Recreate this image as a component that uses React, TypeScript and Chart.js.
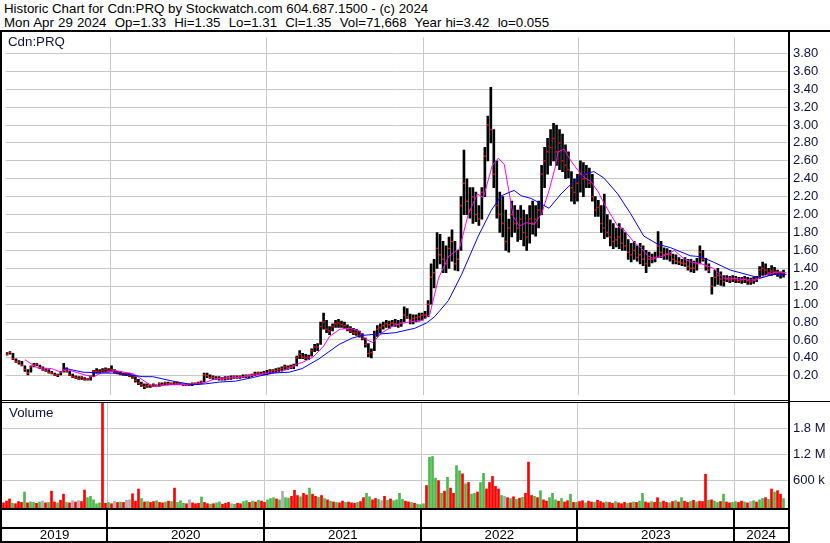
import React, { useEffect, useRef } from 'react';
import { Chart, registerables } from 'chart.js';

Chart.register(...registerables);

const FONT = "'Liberation Sans', Arial, Helvetica, sans-serif";

// ---- weekly price data (week index 0 = end of Apr 2019) ----
const weekHigh = [
  0.46,0.47,0.45,0.39,0.37,0.36,0.31,0.27,0.31,0.34,
  0.34,0.32,0.30,0.28,0.27,0.25,0.23,0.22,0.25,0.34,
  0.29,0.25,0.22,0.20,0.19,0.19,0.18,0.17,0.20,0.26,
  0.28,0.27,0.28,0.29,0.28,0.31,0.27,0.25,0.24,0.23,
  0.23,0.23,0.21,0.19,0.16,0.13,0.11,0.11,0.10,0.11,
  0.10,0.12,0.12,0.13,0.13,0.12,0.13,0.13,0.12,0.11,
  0.11,0.11,0.12,0.12,0.13,0.14,0.23,0.23,0.21,0.20,
  0.19,0.19,0.18,0.19,0.19,0.20,0.20,0.20,0.20,0.21,
  0.21,0.21,0.22,0.24,0.24,0.24,0.25,0.26,0.27,0.27,
  0.28,0.29,0.30,0.32,0.31,0.32,0.33,0.42,0.48,0.45,
  0.44,0.43,0.50,0.55,0.56,0.80,0.90,0.82,0.75,0.78,
  0.82,0.83,0.81,0.80,0.77,0.75,0.73,0.72,0.70,0.67,
  0.62,0.56,0.50,0.70,0.76,0.78,0.80,0.82,0.81,0.82,
  0.83,0.82,0.83,0.97,0.95,0.89,0.88,0.88,0.90,0.90,
  0.92,1.04,1.45,1.50,1.80,1.78,1.70,1.65,1.75,1.83,
  1.70,1.60,2.20,2.72,2.40,2.30,2.30,2.25,2.10,2.30,
  2.75,3.10,3.42,2.95,2.60,2.25,2.20,2.05,1.95,2.15,
  2.10,2.05,2.10,2.05,2.00,2.10,2.15,2.10,2.15,2.55,
  2.75,2.85,2.95,3.02,3.00,2.95,2.90,2.78,2.70,2.48,
  2.40,2.45,2.60,2.58,2.55,2.52,2.45,2.20,2.16,2.10,
  2.23,2.00,1.94,1.90,1.85,1.90,1.85,1.80,1.72,1.68,
  1.70,1.65,1.68,1.65,1.60,1.58,1.56,1.58,1.81,1.70,
  1.63,1.62,1.60,1.56,1.55,1.52,1.50,1.52,1.50,1.50,
  1.48,1.51,1.65,1.60,1.51,1.45,1.30,1.38,1.40,1.36,
  1.32,1.32,1.31,1.32,1.31,1.30,1.30,1.31,1.30,1.29,
  1.30,1.31,1.42,1.47,1.45,1.40,1.43,1.41,1.38,1.36,
  1.38,
];

const weekLow = [
  0.43,0.44,0.38,0.35,0.33,0.31,0.25,0.21,0.24,0.30,
  0.31,0.28,0.26,0.25,0.23,0.22,0.20,0.19,0.21,0.24,
  0.24,0.20,0.18,0.17,0.16,0.16,0.15,0.15,0.15,0.19,
  0.23,0.23,0.24,0.24,0.24,0.25,0.23,0.22,0.21,0.20,
  0.20,0.19,0.17,0.13,0.10,0.08,0.055,0.07,0.07,0.08,
  0.08,0.08,0.09,0.10,0.10,0.10,0.10,0.10,0.10,0.09,
  0.09,0.09,0.09,0.10,0.10,0.11,0.13,0.18,0.17,0.16,
  0.16,0.15,0.15,0.15,0.16,0.16,0.17,0.17,0.17,0.18,
  0.18,0.18,0.19,0.20,0.21,0.21,0.21,0.21,0.22,0.23,
  0.24,0.25,0.26,0.27,0.27,0.28,0.28,0.31,0.39,0.39,
  0.38,0.38,0.42,0.47,0.48,0.55,0.72,0.68,0.66,0.70,
  0.74,0.74,0.74,0.73,0.70,0.68,0.66,0.65,0.63,0.60,
  0.52,0.41,0.40,0.48,0.64,0.68,0.72,0.74,0.73,0.75,
  0.75,0.74,0.75,0.80,0.84,0.78,0.78,0.80,0.81,0.82,
  0.84,0.86,1.00,1.18,1.40,1.45,1.35,1.35,1.40,1.48,
  1.38,1.37,1.60,2.00,2.00,1.96,1.90,1.92,1.88,1.95,
  2.20,2.60,2.80,2.30,1.96,1.80,1.75,1.60,1.58,1.75,
  1.80,1.70,1.72,1.65,1.60,1.68,1.78,1.76,1.85,2.00,
  2.30,2.45,2.55,2.60,2.55,2.50,2.48,2.40,2.41,2.15,
  2.12,2.15,2.25,2.20,2.30,2.30,2.15,1.98,1.98,1.80,
  1.73,1.75,1.65,1.62,1.64,1.62,1.60,1.60,1.50,1.47,
  1.50,1.48,1.45,1.43,1.35,1.42,1.46,1.47,1.52,1.52,
  1.50,1.50,1.48,1.45,1.45,1.44,1.43,1.42,1.38,1.36,
  1.35,1.38,1.45,1.48,1.38,1.35,1.11,1.20,1.22,1.21,
  1.20,1.25,1.24,1.25,1.24,1.24,1.23,1.24,1.22,1.22,
  1.23,1.25,1.30,1.32,1.33,1.32,1.32,1.33,1.31,1.29,
  1.30,
];

const weekClose = [
  0.44,0.46,0.39,0.36,0.35,0.32,0.27,0.23,0.30,0.32,
  0.33,0.29,0.27,0.26,0.24,0.23,0.21,0.21,0.24,0.27,
  0.25,0.21,0.19,0.18,0.17,0.18,0.16,0.16,0.19,0.25,
  0.25,0.24,0.26,0.27,0.26,0.27,0.24,0.23,0.22,0.21,
  0.22,0.20,0.18,0.15,0.12,0.10,0.08,0.09,0.09,0.10,
  0.09,0.11,0.10,0.12,0.11,0.11,0.12,0.11,0.11,0.10,
  0.10,0.10,0.11,0.11,0.12,0.13,0.21,0.20,0.18,0.18,
  0.17,0.17,0.16,0.17,0.18,0.18,0.19,0.18,0.19,0.19,
  0.20,0.20,0.21,0.22,0.23,0.22,0.23,0.23,0.25,0.26,
  0.26,0.27,0.28,0.30,0.29,0.30,0.31,0.40,0.44,0.41,
  0.40,0.41,0.48,0.52,0.52,0.75,0.80,0.72,0.70,0.75,
  0.78,0.79,0.77,0.76,0.72,0.70,0.68,0.68,0.65,0.62,
  0.55,0.45,0.46,0.66,0.72,0.74,0.76,0.78,0.77,0.79,
  0.78,0.77,0.79,0.88,0.86,0.82,0.84,0.85,0.86,0.88,
  0.88,1.00,1.30,1.35,1.62,1.55,1.50,1.45,1.62,1.70,
  1.45,1.50,2.10,2.35,2.15,2.05,2.20,2.00,1.95,2.25,
  2.65,3.00,2.95,2.45,2.10,2.00,1.90,1.70,1.85,2.00,
  1.90,1.85,1.95,1.80,1.75,1.95,1.90,1.95,2.05,2.45,
  2.60,2.70,2.75,2.85,2.70,2.80,2.60,2.55,2.50,2.30,
  2.25,2.35,2.45,2.40,2.45,2.35,2.20,2.05,2.08,1.90,
  1.85,1.80,1.75,1.70,1.72,1.75,1.68,1.65,1.58,1.55,
  1.60,1.52,1.55,1.50,1.45,1.50,1.50,1.52,1.65,1.58,
  1.55,1.56,1.55,1.50,1.48,1.47,1.46,1.45,1.42,1.40,
  1.40,1.45,1.58,1.50,1.42,1.38,1.20,1.30,1.32,1.28,
  1.25,1.28,1.27,1.28,1.27,1.26,1.27,1.28,1.26,1.25,
  1.27,1.29,1.38,1.40,1.38,1.35,1.37,1.36,1.35,1.33,
  1.35,
];

// peak daily volume seen in each week, thousands of shares
const weekVolumeK = [
  80,120,170,70,60,110,90,330,80,100,
  90,70,100,120,80,90,350,100,80,140,
  280,90,80,130,100,130,110,375,200,230,
  150,60,80,3000,70,90,60,110,90,100,
  90,140,150,290,120,400,180,100,110,90,
  110,130,90,80,100,120,110,420,90,130,
  70,60,150,80,60,70,215,90,60,50,
  60,80,100,50,70,90,60,50,70,60,
  110,130,90,120,100,140,120,90,150,180,
  200,170,150,345,200,190,230,370,250,220,
  300,260,420,280,230,210,250,180,150,120,
  100,90,80,120,90,100,80,70,90,110,
  200,300,220,150,180,160,130,230,140,170,
  130,150,300,160,120,100,90,70,50,40,
  60,480,1130,1150,650,590,300,350,670,420,
  300,940,820,750,520,550,280,300,330,550,
  760,400,550,690,460,400,250,230,200,180,
  220,160,190,210,300,1020,250,230,200,360,
  150,120,200,300,150,120,180,100,130,280,
  90,90,110,130,80,120,100,90,140,110,
  80,100,90,70,110,80,60,90,70,80,
  100,90,120,300,100,80,110,90,200,100,
  120,90,80,110,130,100,200,120,90,110,
  140,100,120,110,740,140,150,120,90,110,
  280,100,80,90,110,90,120,100,80,110,
  130,100,150,180,200,160,400,330,360,280,
  180,
];

// g = up, r = down, n = unchanged
const volumeColorCodes =
  'rrrgrrrgrg' + 'grgnrgrrgr' + 'rgrnrnrrgg' + 'gggrrgrnrg' + 'rnnrrrgrgr' +
  'rgrrgrgrgg' + 'grnrrrgrrg' + 'rggrrrngrr' + 'ggrgrgrrgg' + 'grgnggrrrg' +
  'rrgrrgrgrg' + 'rgrrgrrrgr' + 'rggrrgnrgr' + 'ggggrrgrgg' + 'grgggrgrgr' +
  'rggrgrggrg' + 'grrrrrgnrg' + 'rgrgrrrgrg' + 'rrgggrgrrg' + 'rgrrgrrgrr' +
  'rgrrgrrrgr' + 'grggrrgrrg' + 'rrgrgrgrrg' + 'rgrrrgrggr' + 'grrggrrgrn' +
  'grggrgrgrr' + 'g';

// short moving average (magenta)
const maShortWeeks = [
  6,10,15,18,20,26,29,31.5,36,42.5,46,49,55,61.5,66,70,77,83.5,88,91.5,
  95,97,99,102.5,106,108,111.5,115,118,120,122.5,125.5,130,134.5,139,141.5,144.5,148,151.5,154.5,
  157.5,159.5,162.5,164.5,166.5,168,169.5,171.5,174,176.5,179,181.5,183.5,184.5,186.5,189,191.5,193.5,195.5,198,
  200,202.5,204.5,206.5,210,212.5,214.5,216.5,220,223.5,226.5,229,232.5,236.5,240,243,248,251,254.5,258,261,
];
const maShortValues = [
  0.38,0.29,0.28,0.24,0.27,0.21,0.19,0.23,0.26,0.22,0.14,0.08,0.10,0.10,0.12,0.17,0.18,0.21,0.23,0.24,
  0.29,0.33,0.35,0.41,0.53,0.64,0.72,0.73,0.70,0.61,0.57,0.68,0.77,0.80,0.82,0.88,1.29,1.54,1.62,2.01,
  2.23,2.19,2.55,2.63,2.56,2.27,1.98,1.87,1.91,1.89,2.01,2.27,2.52,2.70,2.73,2.59,2.48,2.41,2.37,2.25,
  2.12,1.98,1.87,1.83,1.69,1.62,1.54,1.51,1.54,1.60,1.51,1.47,1.45,1.40,1.29,1.29,1.27,1.27,1.33,1.36,1.35,
];

// long moving average (blue)
const maLongWeeks = [
  18.8,21.2,25.5,32.2,35.5,41.2,45.5,48.8,55.5,62.2,66.5,71.2,76.5,82.2,88.8,94.5,98.8,104.5,111.2,115.5,
  118.8,122.2,129.8,136.5,140.5,143.2,147.8,152.2,157.8,162.2,165.5,169.8,172.2,175.5,178.8,181.5,185.5,189.8,193.2,196.5,
  199.8,204.5,208.8,213.2,217.8,222.2,228.8,232.2,236.5,242.2,247.8,252.2,256.5,261,
];
const maLongValues = [
  0.29,0.27,0.24,0.23,0.23,0.21,0.19,0.19,0.14,0.10,0.11,0.13,0.14,0.18,0.23,0.24,0.28,0.39,0.55,0.62,
  0.65,0.66,0.68,0.73,0.79,0.86,1.04,1.33,1.76,2.05,2.21,2.27,2.21,2.18,2.12,2.07,2.23,2.37,2.45,2.48,
  2.41,2.23,2.01,1.76,1.67,1.63,1.54,1.53,1.47,1.38,1.33,1.29,1.33,1.33,
];

const yearBoundaryWeeks = [34.6, 86.9, 139.3, 191.3, 243.6];
const yearLabels = ['2019', '2020', '2021', '2022', '2023', '2024'];
const priceTickValues = [0.2,0.4,0.6,0.8,1.0,1.2,1.4,1.6,1.8,2.0,2.2,2.4,2.6,2.8,3.0,3.2,3.4,3.6,3.8];
const volumeTickValues = [600000, 1200000, 1800000];
const volumeTickLabels = ['600 k', '1.2 M', '1.8 M'];

// ---- layout ----
const W = 830;
const PLOT_LEFT = 2;
const PLOT_RIGHT = 788;
const X_MIN = -0.5;
const X_MAX = 261.5;
const GRID = '#c8c8c8';
const LABEL = '#101040';
const COLORS: Record<string, string> = { g: '#4cb84c', r: '#ff0000', n: '#aaaaaa' };

const xPx = (w: number) => PLOT_LEFT + ((w - X_MIN) / (X_MAX - X_MIN)) * (PLOT_RIGHT - PLOT_LEFT);

function makeXScale(): any {
  return {
    type: 'linear',
    min: X_MIN,
    max: X_MAX,
    offset: false,
    grid: { color: GRID, lineWidth: 1, drawTicks: false, offset: false },
    border: { display: false },
    ticks: { display: false },
    afterBuildTicks: (s: any) => { s.ticks = yearBoundaryWeeks.map((v) => ({ value: v })); },
    afterFit: (s: any) => { s.height = 0; s.paddingLeft = 0; s.paddingRight = 0; },
  };
}

function makeYScale(min: number, max: number, values: number[], label: (v: number, i: number) => string): any {
  return {
    position: 'right',
    min,
    max,
    grid: { color: GRID, lineWidth: 1, drawTicks: false },
    border: { display: false },
    ticks: {
      padding: 5,
      color: LABEL,
      font: { family: FONT, size: 13 },
      callback: (v: any, i: number) => label(Number(v), i),
    },
    afterBuildTicks: (s: any) => { s.ticks = values.map((v) => ({ value: v })); },
    afterFit: (s: any) => { s.width = W - PLOT_RIGHT; s.paddingTop = 0; s.paddingBottom = 0; },
  };
}

const baseOptions: any = {
  responsive: false,
  animation: false,
  events: [],
  layout: { padding: { left: PLOT_LEFT, right: 0, top: 0, bottom: 0 } },
  plugins: { legend: { display: false }, tooltip: { enabled: false } },
};

export default function App() {
  const priceRef = useRef<HTMLCanvasElement>(null);
  const volRef = useRef<HTMLCanvasElement>(null);

  useEffect(() => {
    document.body.style.margin = '0';
    const price = new Chart(priceRef.current as HTMLCanvasElement, {
      type: 'bar',
      data: {
        datasets: [
          {
            type: 'line',
            data: maLongWeeks.map((w, i) => ({ x: w, y: maLongValues[i] })),
            borderColor: '#0000ff',
            borderWidth: 1,
            pointRadius: 0,
            tension: 0,
            order: 0,
          },
          {
            type: 'line',
            data: maShortWeeks.map((w, i) => ({ x: w, y: maShortValues[i] })),
            borderColor: '#ff00ff',
            borderWidth: 1,
            pointRadius: 0,
            tension: 0,
            order: 1,
          },
          {
            type: 'line',
            data: weekClose.map((c, i) => ({ x: i, y: c })),
            showLine: false,
            pointStyle: 'line',
            pointRadius: 1,
            pointBorderWidth: 1.5,
            pointBorderColor: '#ff0000',
            pointBackgroundColor: '#ff0000',
            order: 2,
          },
          {
            type: 'bar',
            data: weekHigh.map((h, i) => ({ x: i, y: [weekLow[i], h] })),
            backgroundColor: '#000000',
            barThickness: 2,
            grouped: false,
            order: 3,
          },
        ] as any,
      },
      options: {
        ...baseOptions,
        scales: {
          x: makeXScale(),
          y: makeYScale(-0.009, 3.977, priceTickValues, (v) => v.toFixed(2)),
        },
      },
    });

    const volume = new Chart(volRef.current as HTMLCanvasElement, {
      type: 'bar',
      data: {
        datasets: [
          {
            data: weekVolumeK.map((v, i) => ({ x: i, y: v * 1000 })),
            backgroundColor: weekVolumeK.map((_, i) => COLORS[volumeColorCodes[i]] || COLORS.n),
            barThickness: 2,
            grouped: false,
            base: -39000,
          } as any,
        ],
      },
      options: {
        ...baseOptions,
        scales: {
          x: makeXScale(),
          y: makeYScale(-39000, 2384000, volumeTickValues, (_v, i) => volumeTickLabels[i]),
        },
      },
    });

    return () => {
      price.destroy();
      volume.destroy();
    };
  }, []);

  const black = (left: number, top: number, width: number, height: number, key: string) => (
    <div key={key} style={{ position: 'absolute', left, top, width, height, background: '#000' }} />
  );

  const bounds = [PLOT_LEFT, ...yearBoundaryWeeks.map(xPx), PLOT_RIGHT];
  const textBase: React.CSSProperties = {
    position: 'absolute',
    fontFamily: FONT,
    fontSize: 13.3,
    lineHeight: '14px',
    color: '#000',
    whiteSpace: 'pre',
  };

  return (
    <div style={{ position: 'relative', width: W, height: 543, background: '#fff', overflow: 'hidden' }}>
      <div style={{ ...textBase, left: 4, top: 1.7 }}>
        Historic Chart for Cdn:PRQ by Stockwatch.com 604.687.1500 - (c) 2024
      </div>
      <div style={{ ...textBase, left: 4, top: 15.7, wordSpacing: 0.4 }}>
        {'Mon Apr 29 2024  Op=1.33  Hi=1.35  Lo=1.31  Cl=1.35  Vol=71,668  Year hi=3.42  lo=0.055'}
      </div>

      <canvas
        ref={priceRef}
        width={W}
        height={368}
        style={{ position: 'absolute', left: 0, top: 32, width: W, height: 368 }}
      />
      <canvas
        ref={volRef}
        width={W}
        height={105}
        style={{ position: 'absolute', left: 0, top: 403, width: W, height: 105 }}
      />

      <div style={{ ...textBase, left: 8, top: 35.1, color: '#101040' }}>Cdn:PRQ</div>
      <div style={{ ...textBase, left: 9, top: 406.4, color: '#101040' }}>Volume</div>

      {black(0, 30, W, 2, 'top')}
      {black(0, 30, 2, 513, 'left')}
      {black(PLOT_RIGHT, 30, 2, 513, 'right')}
      {black(0, 400, PLOT_RIGHT + 2, 1, 'sep1')}
      {black(0, 402, PLOT_RIGHT + 2, 1, 'sep2')}
      {black(PLOT_RIGHT, 401, W - PLOT_RIGHT, 1, 'sep3')}
      {black(0, 508, PLOT_RIGHT + 2, 2, 'date1')}
      {black(0, 527, PLOT_RIGHT + 2, 2, 'date2')}
      {black(0, 541, PLOT_RIGHT + 2, 2, 'date3')}
      {yearBoundaryWeeks.map((w, i) => black(Math.round(xPx(w)) - 1, 510, 2, 31, 'yb' + i))}

      {yearLabels.map((label, i) => (
        <div
          key={label}
          style={{
            ...textBase,
            left: bounds[i],
            width: bounds[i + 1] - bounds[i],
            top: 527.7,
            textAlign: 'center',
          }}
        >
          {label}
        </div>
      ))}
    </div>
  );
}
